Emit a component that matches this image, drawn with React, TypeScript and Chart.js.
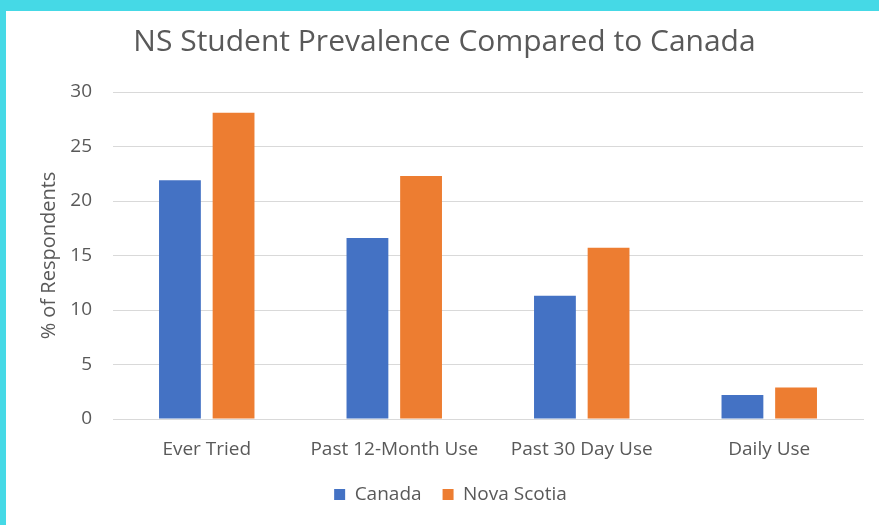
import React, { useEffect, useRef } from "react";
import { Chart, registerables } from "chart.js";

Chart.register(...registerables);

const categories = ["Ever Tried", "Past 12-Month Use", "Past 30 Day Use", "Daily Use"];
const canadaValues = [21.9, 16.6, 11.3, 2.2];
const novaScotiaValues = [28.1, 22.3, 15.7, 2.9];
const yTicks = [0, 5, 10, 15, 20, 25, 30];

const FONT = "'Open Sans', 'Noto Sans', sans-serif";
const TEXT = "#595959";

const shiftBoxes = {
  id: "shiftBoxes",
  afterLayout(chart: any) {
    const t = chart.titleBlock;
    if (t) {
      t.left += 10;
      t.right += 10;
    }
    const l = chart.legend;
    if (l) {
      l.left += 16;
      l.right += 16;
    }
  },
};

export default function App() {
  const ref = useRef<HTMLCanvasElement | null>(null);

  useEffect(() => {
    document.body.style.margin = "0";
    const canvas = ref.current;
    if (!canvas) return;
    const chart = new Chart(canvas, {
      type: "bar",
      data: {
        labels: categories,
        datasets: [
          {
            label: "Canada",
            data: canadaValues,
            backgroundColor: "#4472C4",
            categoryPercentage: 0.572,
            barPercentage: 0.78,
          },
          {
            label: "Nova Scotia",
            data: novaScotiaValues,
            backgroundColor: "#ED7D31",
            categoryPercentage: 0.572,
            barPercentage: 0.78,
          },
        ],
      },
      options: {
        animation: false,
        responsive: false,
        maintainAspectRatio: false,
        layout: { padding: { left: 0, right: 16, top: 0, bottom: 11 } },
        plugins: {
          title: {
            display: true,
            text: "NS Student Prevalence Compared to Canada",
            color: TEXT,
            font: { family: FONT, size: 30, weight: "normal" },
            padding: { top: 13, bottom: 32 },
          },
          legend: {
            position: "bottom",
            labels: {
              color: TEXT,
              font: { family: FONT, size: 19 },
              boxWidth: 11,
              boxHeight: 11,
              padding: 21,
            },
          },
          tooltip: { enabled: false },
        },
        scales: {
          x: {
            grid: { display: false, drawTicks: false },
            border: { display: true, color: "#D9D9D9", width: 1 },
            ticks: {
              color: TEXT,
              font: { family: FONT, size: 19 },
              padding: 19,
              maxRotation: 0,
              autoSkip: false,
            },
            afterFit: (scale: any) => {
              scale.height = 45;
            },
          },
          y: {
            min: 0,
            max: 30,
            afterBuildTicks: (scale: any) => {
              scale.ticks = yTicks.map((v) => ({ value: v }));
            },
            grid: { color: "#D9D9D9", drawTicks: false, lineWidth: 1 },
            border: { display: false },
            ticks: {
              color: TEXT,
              font: { family: FONT, size: 19 },
              padding: 21,
            },
            title: {
              display: true,
              text: "% of Respondents",
              color: TEXT,
              font: { family: FONT, size: 20 },
              padding: { top: 31, bottom: 0 },
            },
            afterFit: (scale: any) => {
              scale.width = 107;
            },
          },
        },
      },
      plugins: [shiftBoxes],
    });
    return () => chart.destroy();
  }, []);

  return (
    <div
      style={{
        position: "absolute",
        left: 0,
        top: 0,
        width: 879,
        height: 525,
        boxSizing: "border-box",
        borderTop: "11px solid #45D9E6",
        borderLeft: "6px solid #45D9E6",
        background: "#ffffff",
        overflow: "hidden",
      }}
    >
      <canvas ref={ref} width={873} height={514} style={{ display: "block", width: 873, height: 514 }} />
    </div>
  );
}
